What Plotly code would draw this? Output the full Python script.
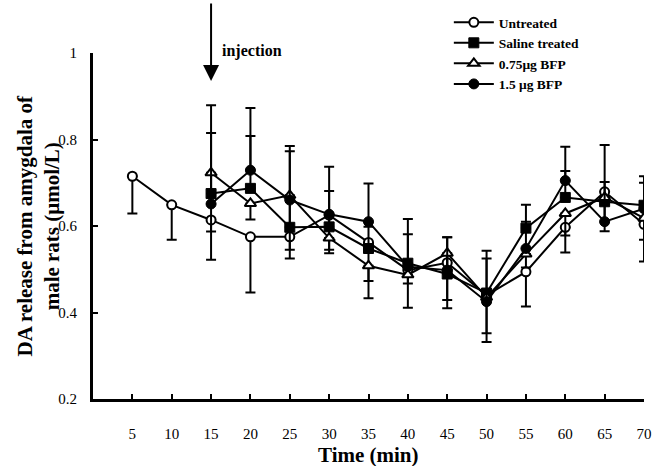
import plotly.graph_objects as go

# ---- data ----
time_all = [5, 10, 15, 20, 25, 30, 35, 40, 45, 50, 55, 60, 65, 70]
time_treated = [15, 20, 25, 30, 35, 40, 45, 50, 55, 60, 65, 70]

untreated = [0.715, 0.649, 0.614, 0.575, 0.575, 0.625, 0.562, 0.498, 0.515, 0.440, 0.494, 0.597, 0.679, 0.604]
untreated_err_minus = [0.086, 0.081, 0.092, 0.129, 0.050, 0.088, 0.129, 0.087, 0.105, 0.108, 0.080, 0.058, 0.091, 0.086]

saline = [0.675, 0.687, 0.597, 0.598, 0.548, 0.514, 0.489, 0.445, 0.595, 0.666, 0.656, 0.648]
saline_err_plus = [0.140, 0.121, 0.176, 0.083, 0.050, 0.067, 0.085, 0.080, 0.054, 0.061, 0.131, 0.067]

bfp075 = [0.723, 0.652, 0.671, 0.572, 0.508, 0.487, 0.537, 0.435, 0.535, 0.629, 0.666, 0.618]
bfp075_err_minus = [0.136, 0.037, 0.126, 0.027, 0.035, 0.020, 0.108, 0.083, 0.031, 0.051, 0.015, 0.050]

bfp15 = [0.651, 0.729, 0.660, 0.627, 0.610, 0.506, 0.498, 0.425, 0.548, 0.705, 0.610, 0.640]
bfp15_err_plus = [0.228, 0.144, 0.125, 0.110, 0.088, 0.110, 0.076, 0.118, 0.062, 0.078, 0.092, 0.060]

x_ticks = [5, 10, 15, 20, 25, 30, 35, 40, 45, 50, 55, 60, 65, 70]
y_ticks = [0.2, 0.4, 0.6, 0.8, 1.0]
y_ticktext = ["0.2", "0.4", "0.6", "0.8", "1"]

names = ["Untreated", "Saline treated", "0.75\u03bcg BFP", "1.5 \u03bcg BFP"]

FONT = "Liberation Serif, Times New Roman, serif"
BLACK = "black"

def zeros(n):
    return [0.0] * n

fig = go.Figure()

fig.add_trace(go.Scatter(
    x=time_all, y=untreated, name=names[0], mode="lines+markers",
    line=dict(color=BLACK, width=2),
    marker=dict(symbol="circle", size=9, color="white", line=dict(color=BLACK, width=2)),
    error_y=dict(type="data", symmetric=False, array=zeros(len(untreated)),
                 arrayminus=untreated_err_minus, color=BLACK, thickness=2, width=5),
))
fig.add_trace(go.Scatter(
    x=time_treated, y=saline, name=names[1], mode="lines+markers",
    line=dict(color=BLACK, width=2),
    marker=dict(symbol="square", size=10, color=BLACK, line=dict(color=BLACK, width=1)),
    error_y=dict(type="data", symmetric=False, array=saline_err_plus,
                 arrayminus=zeros(len(saline)), color=BLACK, thickness=2, width=5),
))
fig.add_trace(go.Scatter(
    x=time_treated, y=bfp075, name=names[2], mode="lines+markers",
    line=dict(color=BLACK, width=2),
    marker=dict(symbol="triangle-up", size=10, color="white", line=dict(color=BLACK, width=2)),
    error_y=dict(type="data", symmetric=False, array=zeros(len(bfp075)),
                 arrayminus=bfp075_err_minus, color=BLACK, thickness=2, width=5),
))
fig.add_trace(go.Scatter(
    x=time_treated, y=bfp15, name=names[3], mode="lines+markers",
    line=dict(color=BLACK, width=2),
    marker=dict(symbol="circle", size=10, color=BLACK, line=dict(color=BLACK, width=1)),
    error_y=dict(type="data", symmetric=False, array=bfp15_err_plus,
                 arrayminus=zeros(len(bfp15)), color=BLACK, thickness=2, width=5),
))

fig.update_layout(
    width=652, height=466,
    margin=dict(l=93, r=8, t=53, b=67, autoexpand=False),
    paper_bgcolor="white", plot_bgcolor="white",
    font=dict(family=FONT, color=BLACK, size=15),
    showlegend=True,
    hovermode=False,
    legend=dict(
        xref="container", yref="container",
        x=0.6884, y=0.985, xanchor="left", yanchor="top",
        bgcolor="rgba(0,0,0,0)", borderwidth=0,
        font=dict(family=FONT, size=13.5, color=BLACK, weight="bold"),
        itemwidth=40, tracegroupgap=0,
    ),
    xaxis=dict(
        range=[0, 70], tickmode="array", tickvals=x_ticks,
        ticktext=[str(v) for v in x_ticks],
        showline=True, linecolor=BLACK, linewidth=3,
        ticks="inside", ticklen=5, tickwidth=2, tickcolor=BLACK,
        showgrid=False, zeroline=False,
        tickfont=dict(family=FONT, size=15, color=BLACK),
        ticklabelstandoff=19,
    ),
    yaxis=dict(
        range=[0.2, 1.0], tickmode="array", tickvals=y_ticks, ticktext=y_ticktext,
        showline=True, linecolor=BLACK, linewidth=3,
        ticks="inside", ticklen=5, tickwidth=2, tickcolor=BLACK,
        showgrid=False, zeroline=False,
        tickfont=dict(family=FONT, size=15, color=BLACK),
        ticklabelstandoff=10,
    ),
    annotations=[
        dict(x=15, y=0.935, xref="x", yref="y", ax=0, ay=-79, axref="pixel", ayref="pixel",
             showarrow=True, arrowhead=2, arrowsize=1.6, arrowwidth=2, arrowcolor=BLACK, text=""),
        dict(x=16.14, y=1.006, xref="x", yref="paper", xanchor="left", yanchor="middle",
             showarrow=False, text="injection",
             font=dict(family=FONT, size=16, color=BLACK, weight="bold")),
        dict(x=-0.1007, y=0.5, xref="paper", yref="paper", xanchor="center", yanchor="middle",
             showarrow=False, textangle=-90,
             text="DA release from amygdala of<br>male rats (\u03bcmol/L)",
             font=dict(family=FONT, size=21, color=BLACK, weight="bold")),
        dict(x=0.5, y=-0.1607, xref="paper", yref="paper", xanchor="center", yanchor="middle",
             showarrow=False, text="Time (min)",
             font=dict(family=FONT, size=21, color=BLACK, weight="bold")),
    ],
)

fig.write_html("out.html", config={"displayModeBar": False},
               post_script="document.body.style.margin='0';")
